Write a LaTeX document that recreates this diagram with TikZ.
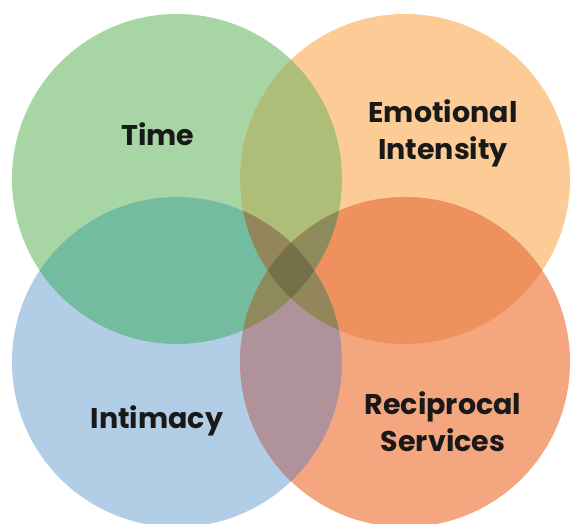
\documentclass[tikz,border=0pt]{standalone}
\usepackage{fontspec}
\setmainfont{Poppins}
\definecolor{timegreen}{HTML}{A8D5A4}
\definecolor{emoorange}{HTML}{FDCC96}
\definecolor{intblue}{HTML}{B2CDE6}
\definecolor{recsalmon}{HTML}{F4A67E}
\definecolor{teoverlap}{HTML}{AEBE78}
\definecolor{tmoverlap}{HTML}{74BCA0}
\definecolor{eroverlap}{HTML}{EF915F}
\definecolor{mroverlap}{HTML}{B0929A}
\definecolor{troverlap}{HTML}{8E8A5C}
\definecolor{emoverlap}{HTML}{93865A}
\definecolor{alloverlap}{HTML}{76704A}
\tikzset{lbl/.style={font=\bfseries\fontsize{28.5}{37}\selectfont, align=center, text=black!90}}

\begin{document}
\begin{tikzpicture}[x=1pt, y=-1pt]
            \useasboundingbox (0,0) rectangle (571,524);
            \fill[white] (0,0) rectangle (571,524);

            \foreach \x/\y/\i/\c in {177/179/t/timegreen,405/179/e/emoorange,177/362/m/intblue,405/362/r/recsalmon} {
            \fill[\c] (\x,\y) coordinate (c\i) circle (165);}

            % pairwise overlaps
            \foreach \a/\b/\c in {t/e/teoverlap,t/m/tmoverlap,e/r/eroverlap,m/r/mroverlap,t/r/troverlap,e/m/emoverlap} {
            \begin{scope}
            \clip (c\a) circle (165);
            \fill[\c] (c\b) circle (165);
            \end{scope}}

            % middle bit
            \begin{scope}
            \clip (ct) circle (165);
            \clip (cr) circle (165);
            \clip (ce) circle (165);
            \fill[alloverlap] (cm) circle (165);
            \end{scope}

            \node[lbl] (time) at (158,134) {Time};
            \node[lbl] (emo) at (443,133) {Emotional\\Intensity};
            \node[lbl] (intim) at (157,421) {Intimacy};
            \node[lbl] (recip) at (443,422) {Reciprocal\\Services};
        \end{tikzpicture}
\end{document}
